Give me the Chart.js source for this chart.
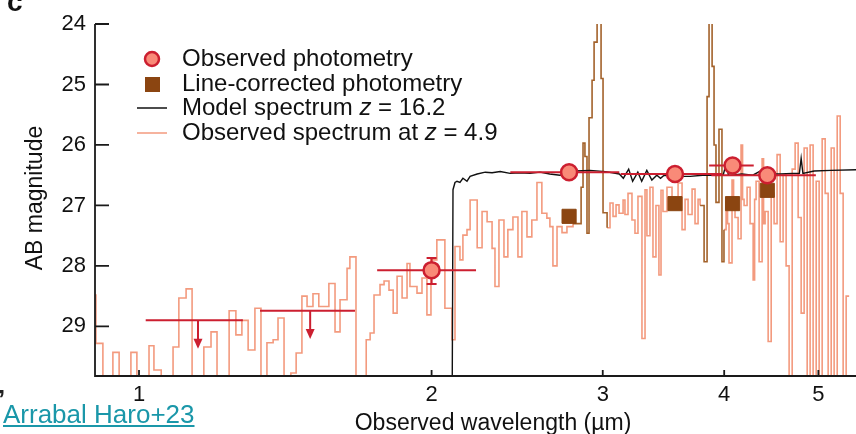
<!DOCTYPE html>
<html>
<head>
<meta charset="utf-8">
<script src="https://cdn.jsdelivr.net/npm/chart.js@4.4.1/dist/chart.umd.min.js"></script>
<style>
  body { margin: 0; background: #fff; }
  #wrap { position: relative; width: 856px; height: 434px; overflow: hidden; font-family: "Liberation Sans", Arial, sans-serif; }
  #panel { position: absolute; left: 7px; top: -12px; font-weight: bold; font-size: 28px; line-height: 28px; color: #111; }
  #mark { position: absolute; left: -2px; top: 386px; font-weight: bold; font-size: 26px; line-height: 26px; color: #222; }
  #ref { position: absolute; left: 3px; top: 401px; font-size: 26px; line-height: 26px; color: #1a97a9; text-decoration: underline; }
</style>
</head>
<body>
<div id="wrap">
  <canvas id="c" width="856" height="434"></canvas>
  <div id="panel">c</div>
  <div id="mark">’</div>
  <a id="ref">Arrabal Haro+23</a>
</div>
<script>
// ---- data (wavelength in µm, AB mag; 31 = below the plot floor) ----
const xTicks = [1, 2, 3, 4, 5];
const yTicks = [24, 25, 26, 27, 28, 29];

// observed spectrum at z = 4.9, bin left edges; null = emission-line part (drawn brown)
const specLam = [0.901, 0.903, 0.918, 0.940, 0.954, 0.981, 0.995, 1.024, 1.036, 1.054,
  1.084, 1.099, 1.118, 1.134, 1.166, 1.186, 1.203, 1.238, 1.258, 1.276,
  1.295, 1.316, 1.335, 1.354, 1.374, 1.390, 1.410, 1.433, 1.451, 1.471,
  1.489, 1.510, 1.531, 1.568, 1.591, 1.610, 1.637, 1.648, 1.672, 1.713,
  1.729, 1.745, 1.770, 1.787, 1.808, 1.826, 1.843, 1.865, 1.887, 1.900,
  1.932, 1.955, 1.978, 1.997, 2.025, 2.064, 2.099, 2.114, 2.139, 2.154,
  2.175, 2.191, 2.228, 2.254, 2.281, 2.308, 2.324, 2.346, 2.374, 2.396,
  2.425, 2.454, 2.477, 2.507, 2.536, 2.567, 2.597, 2.628, 2.647, 2.666,
  2.692, 2.724, 2.756, 2.796, 2.9,
  3.031, 3.052, 3.074, 3.096, 3.118, 3.148, 3.162, 3.185, 3.215, 3.238,
  3.261, 3.292, 3.316, 3.331, 3.355, 3.379, 3.403, 3.427, 3.444, 3.460,
  3.493, 3.535, 3.560, 3.586, 3.620, 3.646, 3.672, 3.707, 3.733, 3.760,
  3.778, 3.9,
  3.998, 4.018, 4.032, 4.046, 4.075, 4.090, 4.104, 4.134, 4.163, 4.178,
  4.193, 4.223, 4.253, 4.284, 4.299, 4.314, 4.345, 4.376, 4.391, 4.407,
  4.439, 4.471, 4.502, 4.534, 4.567, 4.599, 4.632, 4.665, 4.699, 4.732,
  4.766, 4.800, 4.834, 4.869, 4.903, 4.938, 4.974, 5.009, 5.045, 5.081,
  5.117, 5.154, 5.190, 5.228, 5.265, 5.302, 5.340, 5.378];
const specMag = [28.48, 29.28, 31, 29.43, 31, 29.43, 31, 29.32, 29.72, 31,
  29.34, 28.53, 28.38, 31, 29.34, 29.09, 31, 28.74, 29.14, 28.9,
  29.39, 28.7, 31, 29.27, 29.22, 28.86, 31, 29.77, 29.44, 28.5,
  28.67, 28.46, 28.67, 28.29, 29.09, 28.56, 28.04, 27.85, 31, 29.22,
  29.11, 28.48, 28.31, 28.25, 28.4, 28.78, 28.17, 28.53, 27.96, 28.34,
  28.45, 28.2, 28.81, 27.9, 27.57, 28.7, 29.22, 27.68, 27.9, 27.49,
  27.4, 26.91, 27.7, 27.1, 27.27, 27.71, 28.34, 27.24, 27.85, 27.4,
  27.19, 27.85, 27.1, 27.52, 27.24, 26.62, 27.13, 27.21, 27.35, 28.0,
  27.35, 27.45, 27.35, 27.3, null,
  27.37, 26.96, 27.18, 26.99, 27.13, 26.91, 27.15, 26.8, 27.24, 27.46,
  26.85, 29.2, 26.74, 27.5, 26.7, 27.85, 27.0, 28.15, 26.75, 27.1,
  26.7, 27.0, 26.95, 26.63, 27.4, 26.9, 27.15, 26.73, 27.3, 26.9,
  27.0, null,
  27.4, 26.9, 27.3, 27.95, 26.58, 27.0, 27.2, 27.55, 26.0, 26.9,
  27.0, 26.7, 27.3, 28.23, 26.9, 26.6, 27.93, 26.23, 27.3, 27.1,
  29.25, 26.8, 27.3, 26.16, 27.6, 26.5, 28.0, 31, 26.4, 25.97,
  27.2, 28.78, 26.05, 31, 26.0, 31, 26.6, 31, 25.9, 26.8,
  31, 26.05, 31, 25.52, 26.8, 31, 28.5, 28.5];

// emission-line parts of the same spectrum (brown)
const line1Lam = [2.796, 2.850, 2.863, 2.876, 2.890, 2.904, 2.925, 2.939, 2.960, 2.988, 3.002, 3.031];
const line1Mag = [27.3, 26.7, 25.97, 26.19, 27.46, 25.55, 24.93, 24.3, 23.5, 24.9, 27.12, 27.37];
const line2Lam = [3.778, 3.814, 3.841, 3.859, 3.887, 3.905, 3.923, 3.951, 3.979, 3.998];
const line2Mag = [27.0, 27.93, 25.2, 23.5, 24.7, 26.0, 26.95, 25.74, 27.93, 27.4];

// model spectrum z = 16.2
const modelLam = [2.099, 2.104, 2.114, 2.124, 2.139, 2.154, 2.175, 2.191, 2.228, 2.271,
  2.308, 2.353, 2.409, 2.466, 2.525, 2.585, 2.646, 2.711, 2.81, 2.91,
  3.02, 3.12, 3.15, 3.19, 3.22, 3.26, 3.29, 3.33, 3.37, 3.41,
  3.44, 3.47, 3.56, 3.69, 3.80, 3.99, 4.02, 4.04, 4.08, 4.17,
  4.28, 4.37, 4.40, 4.57, 4.70, 4.78, 4.80, 4.82, 4.95, 5.15, 5.47];
const modelMag = [31, 26.74, 26.62, 26.6, 26.62, 26.55, 26.6, 26.52, 26.48, 26.45,
  26.46, 26.44, 26.47, 26.46, 26.47, 26.45, 26.48, 26.5, 26.43, 26.42,
  26.44, 26.48, 26.55, 26.4, 26.6, 26.45, 26.6, 26.42, 26.58, 26.5,
  26.55, 26.5, 26.52, 26.52, 26.5, 26.5, 26.3, 26.5, 26.5, 26.48,
  26.5, 26.42, 26.48, 26.48, 26.47, 26.47, 26.22, 26.47, 26.43, 26.42, 26.41];

// photometry (detections)
const detLam = [2.00, 2.77, 3.56, 4.08, 4.43];
const detMag = [28.07, 26.45, 26.48, 26.34, 26.50];
const detLo  = [1.758, 2.41, 3.13, 3.86, 3.88];
const detHi  = [2.222, 3.12, 3.98, 4.29, 4.97];
const detErrUp = [0.20, 0.05, 0.05, 0.06, 0.05];
const detErrDn = [0.23, 0.05, 0.05, 0.06, 0.05];

// upper limits
const ulLam = [1.150, 1.500];
const ulMag = [28.90, 28.74];
const ulLo  = [1.016, 1.332];
const ulHi  = [1.279, 1.668];
const ulTip = [29.37, 29.21];

// line-corrected photometry
const sqLam = [2.77, 3.56, 4.08, 4.43];
const sqMag = [27.18, 26.97, 26.97, 26.75];

// ---- styles ----
const FONT = '"Liberation Sans", Arial, sans-serif';
const SALMON = '#f39a7e';
const LINEBROWN = '#a3622b';
const SQBROWN = '#8b4511';
const RED = '#cc1f30';
const DOTFILL = '#f98a78';

const pts = (xs, ys) => xs.map((x, i) => ({ x, y: ys[i] }));

function drawPhotBars(chart) {
  const { ctx, scales: { x, y } } = chart;
  ctx.save();
  ctx.strokeStyle = RED;
  ctx.fillStyle = RED;
  ctx.lineWidth = 2;
  detLam.forEach((l, i) => {
    const px = x.getPixelForValue(l), py = y.getPixelForValue(detMag[i]);
    const top = y.getPixelForValue(detMag[i] - detErrUp[i]);
    const bot = y.getPixelForValue(detMag[i] + detErrDn[i]);
    ctx.beginPath();
    ctx.moveTo(x.getPixelForValue(detLo[i]), py);
    ctx.lineTo(x.getPixelForValue(detHi[i]), py);
    ctx.moveTo(px, top); ctx.lineTo(px, bot);
    ctx.moveTo(px - 5, top); ctx.lineTo(px + 5, top);
    ctx.moveTo(px - 5, bot); ctx.lineTo(px + 5, bot);
    ctx.stroke();
  });
  ulLam.forEach((l, i) => {
    const px = x.getPixelForValue(l), py = y.getPixelForValue(ulMag[i]);
    const tip = y.getPixelForValue(ulTip[i]);
    ctx.beginPath();
    ctx.moveTo(x.getPixelForValue(ulLo[i]), py);
    ctx.lineTo(x.getPixelForValue(ulHi[i]), py);
    ctx.moveTo(px, py); ctx.lineTo(px, tip - 6);
    ctx.stroke();
    ctx.beginPath();
    ctx.moveTo(px - 4.5, tip - 10);
    ctx.lineTo(px + 4.5, tip - 10);
    ctx.lineTo(px, tip);
    ctx.closePath();
    ctx.fill();
  });
  ctx.restore();
}

function drawLegend(ctx) {
  ctx.save();
  // markers
  ctx.beginPath();
  ctx.arc(152, 59, 7, 0, Math.PI * 2);
  ctx.fillStyle = DOTFILL; ctx.fill();
  ctx.lineWidth = 2.5; ctx.strokeStyle = RED; ctx.stroke();
  ctx.fillStyle = SQBROWN;
  ctx.fillRect(145, 77, 15, 15);
  ctx.lineWidth = 1.5;
  ctx.strokeStyle = '#111';
  ctx.beginPath(); ctx.moveTo(137, 108); ctx.lineTo(167, 108); ctx.stroke();
  ctx.strokeStyle = SALMON;
  ctx.beginPath(); ctx.moveTo(137, 133); ctx.lineTo(167, 133); ctx.stroke();
  // text
  ctx.fillStyle = '#111';
  ctx.textBaseline = 'middle';
  ctx.textAlign = 'left';
  const rows = [
    [['Observed photometry', false]],
    [['Line-corrected photometry', false]],
    [['Model spectrum ', false], ['z', true], [' = 16.2', false]],
    [['Observed spectrum at ', false], ['z', true], [' = 4.9', false]]
  ];
  const ys = [59, 84, 108, 133];
  rows.forEach((parts, r) => {
    let tx = 182;
    parts.forEach(([t, it]) => {
      ctx.font = (it ? 'italic ' : '') + '24px ' + FONT;
      ctx.fillText(t, tx, ys[r]);
      tx += ctx.measureText(t).width;
    });
  });
  ctx.restore();
}

const decor = {
  id: 'decor',
  beforeDatasetDraw(chart, args) {
    if (args.index === 0) drawPhotBars(chart);
  },
  afterDraw(chart) {
    const { ctx, chartArea: a, scales: { x, y } } = chart;
    ctx.save();
    ctx.strokeStyle = '#1a1a1a';
    ctx.lineWidth = 1.8;
    ctx.beginPath();
    ctx.moveTo(a.left, a.top); ctx.lineTo(a.left, a.bottom); ctx.lineTo(a.right, a.bottom);
    yTicks.forEach(v => { const p = y.getPixelForValue(v); ctx.moveTo(a.left, p); ctx.lineTo(a.left + 14, p); });
    xTicks.forEach(v => { const p = x.getPixelForValue(v); ctx.moveTo(p, a.bottom); ctx.lineTo(p, a.bottom - 6); });
    ctx.stroke();
    // axis titles
    ctx.fillStyle = '#111';
    ctx.font = '23px ' + FONT;
    ctx.textAlign = 'center';
    ctx.textBaseline = 'alphabetic';
    ctx.fillText('Observed wavelength (µm)', 493, 430);
    ctx.translate(42, 198);
    ctx.rotate(-Math.PI / 2);
    ctx.fillText('AB magnitude', 0, 0);
    ctx.restore();
    drawLegend(ctx);
  }
};

new Chart(document.getElementById('c'), {
  type: 'line',
  data: {
    datasets: [
      { label: 'Observed photometry', type: 'scatter', data: pts(detLam, detMag), showLine: false,
        pointStyle: 'circle', pointRadius: 8, backgroundColor: DOTFILL, borderColor: RED, borderWidth: 2.5, order: 0 },
      { label: 'Line-corrected photometry', type: 'scatter', data: pts(sqLam, sqMag), showLine: false,
        pointStyle: 'rect', pointRadius: 10, backgroundColor: SQBROWN, borderColor: SQBROWN, borderWidth: 1, order: 1 },
      { label: 'Model spectrum z = 16.2', data: pts(modelLam, modelMag), borderColor: '#111', borderWidth: 1.4,
        pointRadius: 0, tension: 0, order: 2 },
      { label: 'line 1', data: pts(line1Lam, line1Mag), stepped: 'before', borderColor: LINEBROWN, borderWidth: 1.6,
        pointRadius: 0, order: 3 },
      { label: 'line 2', data: pts(line2Lam, line2Mag), stepped: 'before', borderColor: LINEBROWN, borderWidth: 1.6,
        pointRadius: 0, order: 4 },
      { label: 'Observed spectrum at z = 4.9', data: pts(specLam, specMag), stepped: 'before', borderColor: SALMON,
        borderWidth: 1.6, pointRadius: 0, spanGaps: false, order: 5 }
    ]
  },
  options: {
    responsive: false,
    animation: false,
    devicePixelRatio: 1,
    layout: { autoPadding: false, padding: { top: 24, left: 0, right: 0, bottom: 0 } },
    plugins: { legend: { display: false }, tooltip: { enabled: false } },
    scales: {
      x: {
        type: 'logarithmic', min: 0.901, max: 5.466,
        grid: { display: false, drawTicks: false }, border: { display: false },
        afterBuildTicks: s => { s.ticks = xTicks.map(v => ({ value: v })); },
        afterFit: s => { s.height = 58; s.paddingLeft = 0; s.paddingRight = 0; },
        ticks: { font: { family: FONT, size: 22 }, color: '#111', padding: 6, autoSkip: false, maxRotation: 0,
          callback: v => String(v) }
      },
      y: {
        type: 'linear', reverse: true, min: 24, max: 29.82,
        grid: { display: false, drawTicks: false }, border: { display: false },
        afterBuildTicks: s => { s.ticks = yTicks.map(v => ({ value: v })); },
        afterFit: s => { s.width = 95; s.paddingTop = 0; s.paddingBottom = 0; },
        ticks: { font: { family: FONT, size: 22 }, color: '#111', padding: 9 }
      }
    }
  },
  plugins: [decor]
});
</script>
</body>
</html>
